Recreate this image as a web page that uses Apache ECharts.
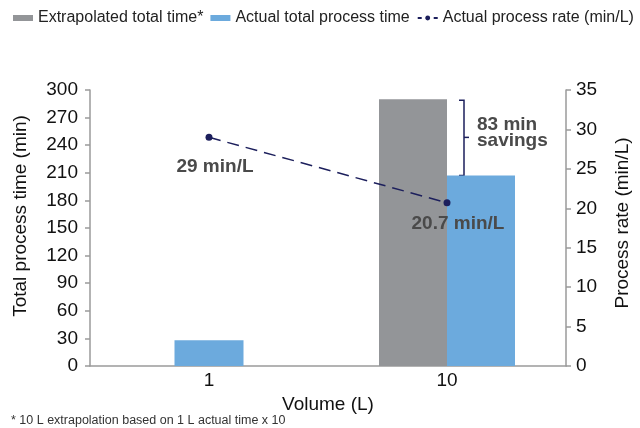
<!DOCTYPE html>
<html>
<head>
<meta charset="utf-8">
<script src="https://cdn.jsdelivr.net/npm/echarts@6/dist/echarts.min.js"></script>
<style>
  html, body { margin: 0; padding: 0; background: #fff; }
  #main { width: 640px; height: 428px; }
</style>
</head>
<body>
<div id="main"></div>
<script>
const volumes = ['1', '10']
const extrapolatedTime = ['-', 290]
const actualTime = [28, 207]
const processRate = [29, 20.7]
const leftTicks = { min: 0, max: 300, interval: 30 }
const rightTicks = { min: 0, max: 35, interval: 5 }

const gray = '#939598'
const blue = '#6caadd'
const navy = '#1c1f5c'
const font = 'Liberation Sans, Arial, sans-serif'

const chart = echarts.init(document.getElementById('main'))

const axisLine = { show: true, lineStyle: { color: '#9a9a9a', width: 1.5 } }
const axisTick = { show: true, length: 5, lineStyle: { color: '#9a9a9a', width: 1.5 } }
const labelText = { fontSize: 19, color: '#111' }

chart.setOption({
  animation: false,
  textStyle: { fontFamily: font },
  legend: {
    top: 10,
    left: 13,
    width: 627,
    padding: 0,
    itemGap: 7,
    itemWidth: 20,
    itemHeight: 6,
    textStyle: { fontSize: 16, color: '#222', fontFamily: font },
    data: [
      { name: 'Extrapolated total time*', icon: 'rect' },
      { name: 'Actual total process time', icon: 'rect' },
      { name: 'Actual process rate (min/L)', lineStyle: { type: [4, 4] } },
    ],
  },
  grid: { left: 90, right: 73, top: 90, bottom: 62 },
  xAxis: [
    {
      type: 'category',
      data: volumes,
      axisLine: axisLine,
      axisTick: { show: false },
      axisLabel: { ...labelText, margin: 5 },
      name: 'Volume (L)',
      nameLocation: 'middle',
      nameGap: 28,
      nameTextStyle: labelText,
    },
    {
      type: 'category',
      data: volumes,
      show: false,
    },
  ],
  yAxis: [
    {
      type: 'value',
      min: leftTicks.min,
      max: leftTicks.max,
      interval: leftTicks.interval,
      axisLine: axisLine,
      axisTick: axisTick,
      splitLine: { show: false },
      axisLabel: { ...labelText, margin: 12 },
      name: 'Total process time (min)',
      nameLocation: 'middle',
      nameGap: 60,
      nameTextStyle: { ...labelText, padding: [0, 0, 0, 24] },
    },
    {
      type: 'value',
      position: 'right',
      min: rightTicks.min,
      max: rightTicks.max,
      interval: rightTicks.interval,
      axisLine: axisLine,
      axisTick: axisTick,
      splitLine: { show: false },
      axisLabel: { ...labelText, margin: 10 },
      name: 'Process rate (min/L)',
      nameLocation: 'middle',
      nameGap: 47,
      nameRotate: 90,
      nameTextStyle: { ...labelText, padding: [0, 0, 0, 10] },
    },
  ],
  series: [
    {
      name: 'Actual total process time',
      type: 'bar',
      xAxisIndex: 0,
      barWidth: 69,
      data: [actualTime[0], '-'],
      itemStyle: { color: blue },
    },
    {
      name: 'Extrapolated total time*',
      type: 'bar',
      xAxisIndex: 1,
      barWidth: 68,
      barGap: '0%',
      data: extrapolatedTime,
      itemStyle: { color: gray },
    },
    {
      name: 'Actual total process time',
      type: 'bar',
      xAxisIndex: 1,
      barWidth: 68,
      barGap: '0%',
      data: ['-', actualTime[1]],
      itemStyle: { color: blue },
    },
    {
      name: 'Actual process rate (min/L)',
      type: 'line',
      xAxisIndex: 0,
      yAxisIndex: 1,
      symbol: 'circle',
      symbolSize: 7,
      z: 5,
      itemStyle: { color: navy },
      lineStyle: { color: navy, width: 1.5, type: [12, 7] },
      data: processRate.map((v, i) => ({
        value: v,
        label: {
          show: true,
          position: 'bottom',
          distance: 5,
          offset: i === 0 ? [6, 11] : [11, 3],
          formatter: v + ' min/L',
          fontSize: 19,
          fontWeight: 'bold',
          color: '#4a4a4a',
        },
      })),
    },
  ],
})

// savings bracket between the extrapolated and actual bars at 10 L
const pTop = chart.convertToPixel({ xAxisIndex: 1, yAxisIndex: 0 }, [1, extrapolatedTime[1]])
const pBot = chart.convertToPixel({ xAxisIndex: 1, yAxisIndex: 0 }, [1, actualTime[1]])
const bx = pTop[0] + 17
const mid = (pTop[1] + pBot[1]) / 2
chart.setOption({
  graphic: [
    {
      type: 'polyline',
      shape: { points: [[bx - 5, pTop[1] + 1], [bx, pTop[1] + 1], [bx, pBot[1]], [bx - 5, pBot[1]]] },
      style: { stroke: navy, lineWidth: 1.5, fill: null },
    },
    {
      type: 'line',
      shape: { x1: bx, y1: mid, x2: bx + 5, y2: mid },
      style: { stroke: navy, lineWidth: 1.5 },
    },
    {
      type: 'text',
      x: bx + 13,
      y: mid - 21,
      style: {
        text: '83 min\nsavings',
        fontSize: 19,
        fontWeight: 'bold',
        lineHeight: 16,
        fill: '#4a4a4a',
        fontFamily: font,
      },
    },
    {
      type: 'text',
      left: 11,
      bottom: 1,
      style: {
        text: '* 10 L extrapolation based on 1 L actual time x 10',
        fontSize: 12.5,
        fill: '#333',
        fontFamily: font,
      },
    },
  ],
})
</script>
</body>
</html>
